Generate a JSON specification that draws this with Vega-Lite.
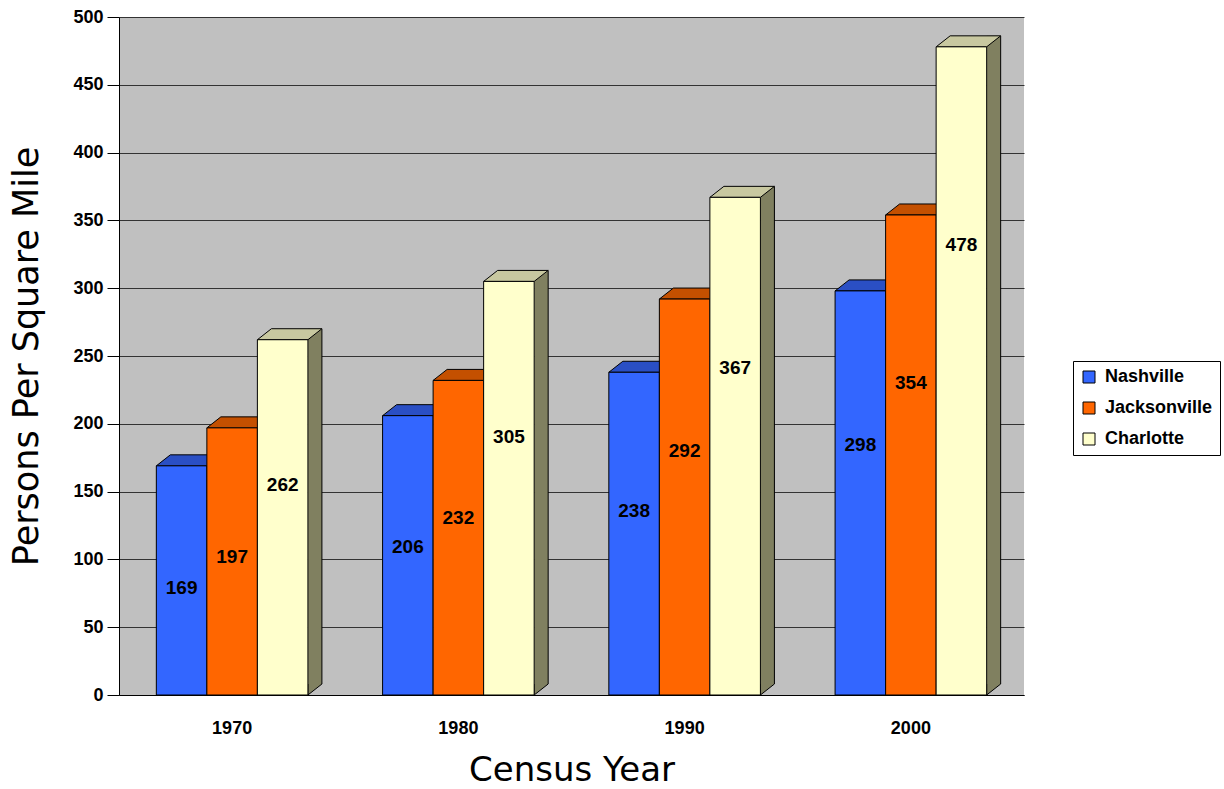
{
  "$schema": "https://vega.github.io/schema/vega-lite/v6.json",
  "width": 905,
  "height": 678,
  "autosize": {"type": "none"},
  "padding": {"left": 119, "top": 17, "right": 200, "bottom": 94},
  "background": "white",
  "config": {
    "view": {"fill": "#C0C0C0", "stroke": null},
    "axis": {
      "labelFont": "Liberation Sans",
      "labelFontWeight": "bold",
      "labelFontSize": 18,
      "labelColor": "black",
      "titleFont": "DejaVu Sans",
      "titleFontWeight": "normal",
      "titleColor": "black",
      "domainColor": "black",
      "tickColor": "black"
    },
    "legend": {
      "orient": "none",
      "legendX": 954,
      "legendY": 344,
      "fillColor": "white",
      "strokeColor": "black",
      "padding": 7,
      "symbolType": "square",
      "symbolSize": 144,
      "symbolStrokeColor": "black",
      "symbolStrokeWidth": 1,
      "labelFont": "Liberation Sans",
      "labelFontWeight": "bold",
      "labelFontSize": 18,
      "labelColor": "black",
      "labelOffset": 7,
      "rowPadding": 13
    }
  },
  "data": {
    "values": [
      {"year": "1970", "city": "Nashville", "persons": 169},
      {"year": "1970", "city": "Jacksonville", "persons": 197},
      {"year": "1970", "city": "Charlotte", "persons": 262},
      {"year": "1980", "city": "Nashville", "persons": 206},
      {"year": "1980", "city": "Jacksonville", "persons": 232},
      {"year": "1980", "city": "Charlotte", "persons": 305},
      {"year": "1990", "city": "Nashville", "persons": 238},
      {"year": "1990", "city": "Jacksonville", "persons": 292},
      {"year": "1990", "city": "Charlotte", "persons": 367},
      {"year": "2000", "city": "Nashville", "persons": 298},
      {"year": "2000", "city": "Jacksonville", "persons": 354},
      {"year": "2000", "city": "Charlotte", "persons": 478}
    ]
  },
  "encoding": {
    "x": {
      "field": "year",
      "type": "nominal",
      "scale": {"paddingInner": 0.33, "paddingOuter": 0.165},
      "axis": {
        "title": "Census Year",
        "titleFontSize": 34,
        "labelAngle": 0,
        "ticks": false,
        "labelPadding": 24,
        "titleY": 85,
        "titleBaseline": "alphabetic"
      }
    }
  },
  "layer": [
    {
      "transform": [{"filter": "datum.city === 'Charlotte'"}],
      "layer": [
        {
          "mark": {"type": "bar", "width": 14, "xOffset": 82.79, "yOffset": -11, "y2Offset": -11, "color": "#808060", "strokeWidth": 0},
          "encoding": {
            "y": {"field": "persons", "type": "quantitative", "scale": {"domain": [0, 500], "nice": false}, "axis": null}
          }
        },
        {
          "mark": {"type": "point", "shape": "M75.79,-11L75.79,0L89.79,-11", "size": 4, "filled": true, "opacity": 1, "color": "#808060", "stroke": "black", "strokeWidth": 1},
          "encoding": {
            "y": {"datum": 0, "type": "quantitative", "scale": {"domain": [0, 500], "nice": false}, "axis": null}
          }
        },
        {
          "mark": {"type": "rule", "xOffset": 89.79, "yOffset": -11, "y2Offset": -11, "color": "black", "strokeWidth": 1},
          "encoding": {
            "y": {"field": "persons", "type": "quantitative", "scale": {"domain": [0, 500], "nice": false}, "axis": null},
            "y2": {"datum": 0}
          }
        }
      ]
    },
    {
      "mark": {"type": "point", "shape": "M-25.26,0L25.26,0L39.26,-11L-11.26,-11Z", "size": 4, "filled": true, "opacity": 1, "stroke": "black", "strokeWidth": 1},
      "encoding": {
        "xOffset": {"field": "city", "type": "nominal", "scale": {"domain": ["Nashville", "Jacksonville", "Charlotte"], "paddingInner": 0, "paddingOuter": 0}},
        "y": {"field": "persons", "type": "quantitative", "scale": {"domain": [0, 500], "nice": false}, "axis": null},
        "color": {
          "field": "city",
          "type": "nominal",
          "scale": {"domain": ["Nashville", "Jacksonville", "Charlotte"], "range": ["#2A4FC4", "#C45000", "#C8C8A0"]},
          "legend": null
        }
      }
    },
    {
      "mark": {"type": "bar", "stroke": "black", "strokeWidth": 1},
      "encoding": {
        "xOffset": {"field": "city", "type": "nominal", "scale": {"domain": ["Nashville", "Jacksonville", "Charlotte"], "paddingInner": 0, "paddingOuter": 0}},
        "y": {
          "field": "persons",
          "type": "quantitative",
          "scale": {"domain": [0, 500], "nice": false},
          "axis": {
            "title": "Persons Per Square Mile",
            "titleFontSize": 35,
            "values": [0, 50, 100, 150, 200, 250, 300, 350, 400, 450, 500],
            "format": "d",
            "grid": true,
            "gridColor": "#333333",
            "gridWidth": 1,
            "tickSize": 12,
            "labelPadding": 4,
            "titleX": -82,
            "titleBaseline": "alphabetic"
          }
        },
        "color": {
          "field": "city",
          "type": "nominal",
          "scale": {"domain": ["Nashville", "Jacksonville", "Charlotte"], "range": ["#3366FF", "#FF6600", "#FFFFCC"]},
          "legend": {"title": null}
        }
      }
    },
    {
      "mark": {"type": "text", "font": "Liberation Sans", "fontWeight": "bold", "fontSize": 19, "color": "black", "baseline": "middle", "align": "center"},
      "encoding": {
        "xOffset": {"field": "city", "type": "nominal", "scale": {"domain": ["Nashville", "Jacksonville", "Charlotte"], "paddingInner": 0, "paddingOuter": 0}},
        "y": {"field": "persons", "type": "quantitative", "scale": {"domain": [72, 684], "nice": false, "zero": false}, "axis": null},
        "text": {"field": "persons", "type": "quantitative"}
      }
    }
  ],
  "resolve": {"scale": {"color": "independent", "y": "independent"}}
}
